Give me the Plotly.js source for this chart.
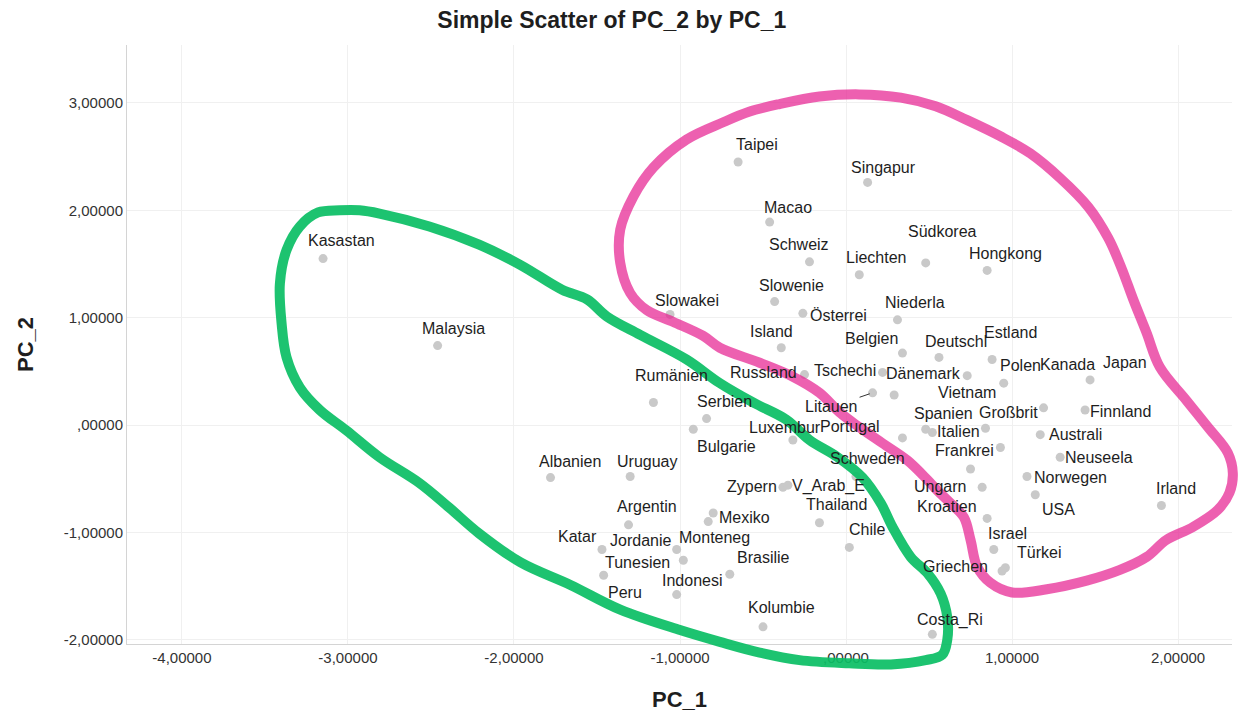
<!DOCTYPE html>
<html>
<head>
<meta charset="utf-8">
<script src="https://cdn.plot.ly/plotly-3.0.1.min.js"></script>
<style>html,body{margin:0;padding:0;background:#fff;}#chart{width:1241px;height:718px;}</style>
</head>
<body>
<div id="chart"></div>
<script>
// ---- data ----
const countries = ["Taipei","Singapur","Macao","Schweiz","Liechten","Südkorea","Hongkong","Kasastan","Slowenie","Slowakei",
  "Österrei","Niederla","Malaysia","Island","Belgien","Deutschl","Estland","Russland","Tschechi","Dänemark",
  "Vietnam","Polen","Japan","Kanada","Rumänien","Litauen","Finnland","Serbien","Bulgarie","Spanien",
  "Italien","Großbrit","Portugal","Frankrei","Australi","Neuseela","Lettland","Norwegen","Ungarn","USA",
  "Irland","Kroatien","Israel","Türkei","Griechen","Albanien","Uruguay","Zypern","V_Arab_E","Thailand",
  "Chile","Schweden","Luxembur","Argentin","Mexiko","Monteneg","Katar","Jordanie","Tunesien","Peru",
  "Indonesi","Brasilie","Kolumbie","Costa_Ri"];
const pc1 = [-0.65,0.13,-0.46,-0.22,0.08,0.48,0.85,-3.15,-0.43,-1.06,
  -0.26,0.31,-2.46,-0.39,0.34,0.56,0.88,-0.25,0.22,0.29,
  0.73,0.95,1.47,1.19,-1.16,0.16,1.44,-0.84,-0.92,0.48,
  0.52,0.84,0.34,0.93,1.17,1.29,0.75,1.09,0.82,1.14,
  1.90,0.85,0.89,0.96,0.94,-1.78,-1.30,-0.38,-0.35,-0.16,
  0.02,0.06,-0.32,-1.31,-0.80,-0.83,-1.47,-1.02,-0.98,-1.46,
  -1.02,-0.70,-0.50,0.52];
const pc2 = [2.45,2.26,1.89,1.52,1.40,1.51,1.44,1.55,1.15,1.03,
  1.04,0.98,0.74,0.72,0.67,0.63,0.61,0.47,0.49,0.28,
  0.46,0.39,0.42,0.16,0.21,0.30,0.14,0.06,-0.04,-0.04,
  -0.07,-0.03,-0.12,-0.21,-0.09,-0.30,-0.41,-0.48,-0.58,-0.65,
  -0.75,-0.87,-1.16,-1.33,-1.36,-0.49,-0.48,-0.58,-0.56,-0.91,
  -1.14,-0.48,-0.14,-0.93,-0.82,-0.90,-1.16,-1.16,-1.26,-1.40,
  -1.58,-1.39,-1.88,-1.95];

// hand-drawn green loop (PC_1, PC_2)
const greenPC1 = [-3.18,-3.05,-2.93,-2.81,-2.51,-2.21,-1.96,-1.71,-1.56,-1.44,-1.24,-0.96,-0.76,-0.56,-0.36,-0.22,-0.05,0.10,0.21,0.28,
  0.39,0.49,0.57,0.61,0.61,0.58,0.48,0.27,0.02,-0.28,-0.52,-0.76,-1.00,-1.36,-1.66,-1.96,-2.21,-2.39,-2.57,-2.81,
  -3.01,-3.17,-3.29,-3.37,-3.40,-3.41,-3.37,-3.29,-3.18];
const greenPC2 = [1.98,2.00,2.00,1.97,1.85,1.68,1.49,1.26,1.17,1.01,0.84,0.61,0.39,0.21,0.05,-0.14,-0.30,-0.49,-0.73,-0.95,
  -1.23,-1.38,-1.57,-1.79,-2.00,-2.14,-2.19,-2.23,-2.22,-2.19,-2.12,-2.02,-1.91,-1.72,-1.49,-1.28,-1.01,-0.77,-0.54,-0.30,
  -0.05,0.14,0.35,0.63,0.95,1.32,1.63,1.85,1.98];

// hand-drawn pink loop (PC_1, PC_2)
const pinkPC1 = [-0.74,-0.58,-0.40,-0.16,0.08,0.33,0.54,0.73,0.93,1.11,1.29,1.46,1.58,1.66,1.73,1.81,1.89,2.05,2.18,2.30,
  2.33,2.31,2.24,2.09,1.93,1.81,1.65,1.45,1.21,1.00,0.87,0.79,0.75,0.71,0.63,0.55,0.49,0.37,0.22,0.08,
  -0.04,-0.16,-0.32,-0.52,-0.76,-0.86,-1.04,-1.20,-1.30,-1.36,-1.36,-1.28,-1.16,-0.96,-0.74];
const pinkPC2 = [2.82,2.92,2.99,3.06,3.08,3.05,2.97,2.84,2.69,2.53,2.30,2.03,1.74,1.46,1.17,0.86,0.54,0.23,-0.02,-0.26,
  -0.45,-0.63,-0.79,-0.95,-1.07,-1.23,-1.35,-1.45,-1.53,-1.56,-1.47,-1.32,-1.07,-0.86,-0.73,-0.61,-0.51,-0.33,-0.17,-0.02,
  0.12,0.30,0.45,0.58,0.72,0.83,0.96,1.07,1.23,1.51,1.82,2.13,2.40,2.66,2.82];

const xTickVals = [-4,-3,-2,-1,0,1,2];
const xTickText = ["-4,00000","-3,00000","-2,00000","-1,00000",",00000","1,00000","2,00000"];
const yTickVals = [-2,-1,0,1,2,3];
const yTickText = ["-2,00000","-1,00000",",00000","1,00000","2,00000","3,00000"];

// ---- label placement (pixel offsets of each label from its point; style only) ----
const labelOffset = {
  "Taipei":[19,-18],"Singapur":[16,-15],"Macao":[18,-15],"Schweiz":[-10,-17],"Liechten":[17,-17],"Südkorea":[17,-31],
  "Hongkong":[18,-17],"Kasastan":[18,-18],"Slowenie":[17,-16],"Slowakei":[17,-14],"Österrei":[36,2],"Niederla":[18,-17],
  "Malaysia":[16,-17],"Island":[-10,-16],"Belgien":[-31,-15],"Deutschl":[17,-16],"Estland":[18,-27],"Russland":[-41,-2],
  "Tschechi":[-38,-2],"Dänemark":[29,-21],"Vietnam":[0,17],"Polen":[17,-18],"Japan":[35,-17],"Kanada":[24,-43],
  "Rumänien":[18,-27],"Litauen":[-41,14],"Finnland":[35,2],"Serbien":[18,-17],"Bulgarie":[33,17],"Spanien":[18,-16],
  "Italien":[26,-1],"Großbrit":[23,-16],"Portugal":[-52,-11],"Frankrei":[-36,3],"Australi":[35,0],"Neuseela":[39,0],
  "Norwegen":[44,1],"Ungarn":[-42,-1],"USA":[23,15],"Irland":[15,-17],"Kroatien":[-40,-12],"Israel":[14,-16],
  "Türkei":[34,-15],"Griechen":[-47,-5],"Albanien":[19,-16],"Uruguay":[17,-15],"Zypern":[-31,-1],"V_Arab_E":[41,1],
  "Thailand":[17,-18],"Chile":[18,-18],"Schweden":[12,-18],"Luxembur":[-8,-13],"Argentin":[18,-18],"Mexiko":[31,4],
  "Monteneg":[6,16],"Katar":[-24,-13],"Jordanie":[-36,-9],"Tunesien":[-46,2],"Peru":[21,17],"Indonesi":[16,-14],
  "Brasilie":[34,-17],"Kolumbie":[18,-19],"Costa_Ri":[18,-14]
};
const unlabeled = new Set(["Lettland"]);
const leaderLine = new Set(["Litauen"]);

const FONT = "'Liberation Sans', Arial, sans-serif";

const annotations = [];
countries.forEach((c, i) => {
  if (unlabeled.has(c)) return;
  const off = labelOffset[c] || [17,-17];
  const a = {
    x: pc1[i], y: pc2[i], xref: 'x', yref: 'y', text: c,
    font: {family: FONT, size: 16, color: '#1e1e1e'},
    xanchor: 'center', yanchor: 'middle'
  };
  if (leaderLine.has(c)) {
    Object.assign(a, {showarrow: true, ax: off[0], ay: off[1], arrowhead: 0, arrowwidth: 1, arrowcolor: '#333', standoff: 3});
  } else {
    Object.assign(a, {showarrow: false, xshift: off[0], yshift: -off[1]});
  }
  annotations.push(a);
});

const traces = [
  {type: 'scatter', mode: 'markers', x: pc1, y: pc2, text: countries, xaxis: 'x', yaxis: 'y',
   marker: {size: 9, color: '#c9c9c9'}, hoverinfo: 'text', showlegend: false},
  {type: 'scatter', mode: 'lines', x: greenPC1, y: greenPC2, xaxis: 'x2', yaxis: 'y2',
   line: {color: 'rgba(10,190,100,0.92)', width: 10, shape: 'spline', smoothing: 1}, hoverinfo: 'skip', showlegend: false},
  {type: 'scatter', mode: 'lines', x: pinkPC1, y: pinkPC2, xaxis: 'x2', yaxis: 'y2',
   line: {color: 'rgba(230,35,145,0.72)', width: 10, shape: 'spline', smoothing: 1}, hoverinfo: 'skip', showlegend: false}
];

const W = 1241, H = 718;
const mL = 127, mR = 0, mT = 45, mB = 43;
const plotW = W - mL - mR, plotH = H - mT - mB;
const xMin = -4.331, xMax = 2.325;            // main axis range
const yMin = -2.04, yMax = 3.54;
const xRightPx = 1232, yBottomPx = 644;
const xDomR = (xRightPx - mL) / plotW;
const yDomB = ((H - mB) - yBottomPx) / plotH;
const pxPerX = (xRightPx - mL) / (xMax - xMin);
const pxPerY = (yBottomPx - mT) / (yMax - yMin);

const layout = {
  width: W, height: H,
  margin: {l: mL, r: mR, t: mT, b: mB},
  paper_bgcolor: '#ffffff', plot_bgcolor: 'rgba(0,0,0,0)',
  font: {family: FONT, color: '#222'},
  title: {text: 'Simple Scatter of PC_2 by PC_1', xref: 'container', yref: 'container', x: 0.493, y: 1 - 20/H,
          xanchor: 'center', yanchor: 'middle', font: {family: FONT, size: 23, weight: 'bold', color: '#1e1e1e'}},
  xaxis: {domain: [0, xDomR], range: [xMin, xMax], anchor: 'y',
          tickvals: xTickVals, ticktext: xTickText, tickfont: {family: FONT, size: 15, color: '#333'},
          showgrid: true, gridcolor: '#f0f0f0', gridwidth: 1, zeroline: false,
          showline: true, linecolor: '#d4d4d4', linewidth: 1, ticks: '',
          title: {text: 'PC_1', font: {family: FONT, size: 22, weight: 'bold', color: '#1e1e1e'}, standoff: 26}},
  yaxis: {domain: [yDomB, 1], range: [yMin, yMax], anchor: 'x',
          tickvals: yTickVals, ticktext: yTickText, tickfont: {family: FONT, size: 15, color: '#333'},
          showgrid: true, gridcolor: '#f0f0f0', gridwidth: 1, zeroline: false,
          showline: true, linecolor: '#d4d4d4', linewidth: 1, ticks: '',
          title: {text: 'PC_2', font: {family: FONT, size: 22, weight: 'bold', color: '#1e1e1e'}, standoff: 24}},
  xaxis2: {domain: [0, 1], range: [xMin, xMin + plotW / pxPerX], anchor: 'y2', visible: false, fixedrange: true},
  yaxis2: {domain: [0, 1], range: [yMax - plotH / pxPerY, yMax], anchor: 'x2', visible: false, fixedrange: true},
  annotations: annotations,
  showlegend: false
};

Plotly.newPlot('chart', traces, layout, {displayModeBar: false, staticPlot: true});
</script>
</body>
</html>
